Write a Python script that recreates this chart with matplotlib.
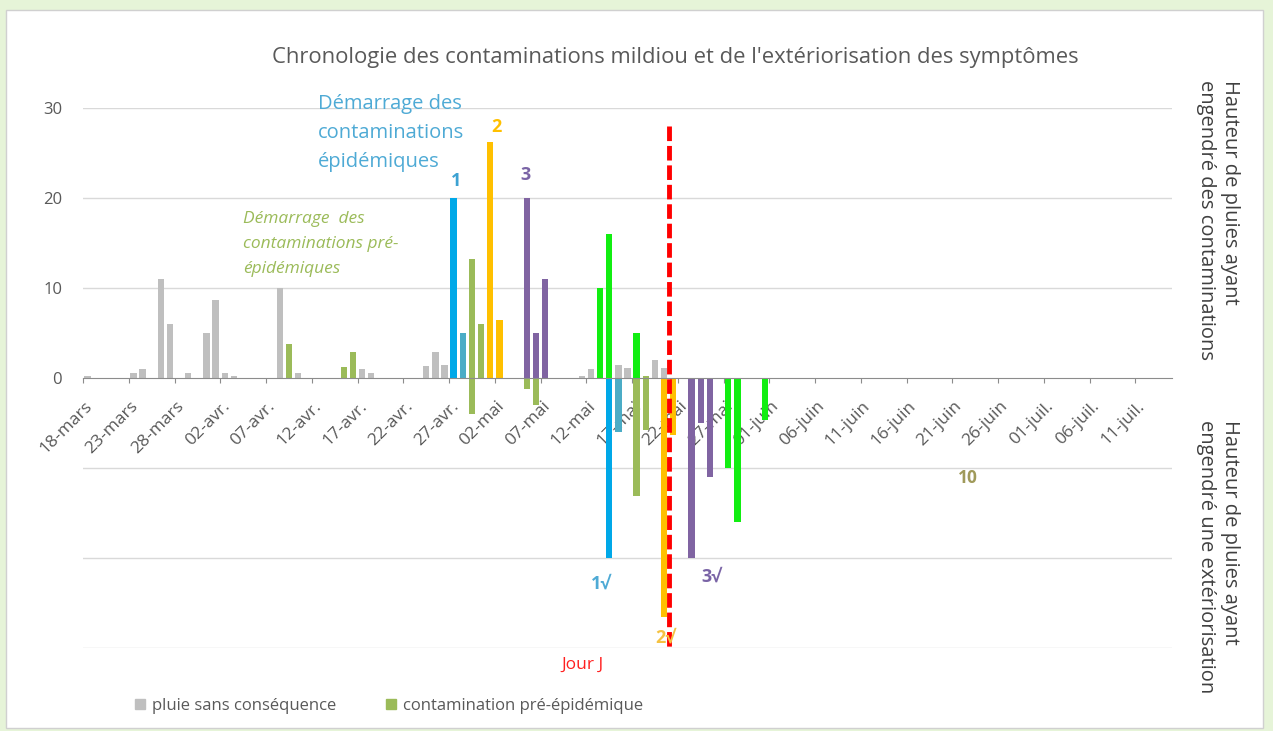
import matplotlib
matplotlib.use("Agg")
import matplotlib.pyplot as plt
import matplotlib.transforms as mtransforms
import numpy as np
from matplotlib.patches import Patch, Rectangle

# days counted from 18-mars (0 = 18-mars)
tick_days = list(range(0, 116, 5))
tick_labels = ['18-mars', '23-mars', '28-mars', '02-avr.', '07-avr.', '12-avr.',
               '17-avr.', '22-avr.', '27-avr.', '02-mai', '07-mai', '12-mai',
               '17-mai', '22-mai', '27-mai', '01-juin', '06-juin', '11-juin',
               '16-juin', '21-juin', '26-juin', '01-juil.', '06-juil.', '11-juil.']

# pluie sans conséquence
gray_days = [0, 5, 6, 8, 9, 11, 13, 14, 15, 16, 21, 23, 30, 31, 37, 38, 39,
             54, 55, 58, 59, 62, 63]
gray_vals = [0.2, 0.6, 1.0, 11, 6, 0.6, 5, 8.7, 0.6, 0.2, 10, 0.6, 1.0, 0.6,
             1.3, 2.9, 1.5, 0.2, 1.0, 1.5, 1.1, 2.0, 1.1]

# contamination pré-épidémique (positive = contamination, negative = sortie)
olive_days = [22, 28, 29, 42, 43, 61, 42, 48, 49, 60, 61]
olive_vals = [3.8, 1.2, 2.9, 13.2, 6.0, 0.2, -4.0, -1.2, -3.0, -13.1, -5.8]

# contamination 1
blue_days = [40, 57]
blue_vals = [20, -20]
teal_days = [41, 58]
teal_vals = [5, -6]

# contamination 2
orange_days = [44, 45, 63, 64]
orange_vals = [26.2, 6.5, -26.5, -6.3]

# contamination 3
purple_days = [48, 49, 50, 66, 67, 68]
purple_vals = [20, 5, 11, -20, -5, -11]

# later contaminations
lime_days = [56, 57, 60, 70, 71, 74]
lime_vals = [10, 16, 5, -10, -16, -4.7]

jour_j = 64.0

txt = '#595959'
c_gray = '#bfbfbf'
c_olive = '#9bbb59'
c_blue = '#00a8e8'
c_teal = '#4bacc6'
c_orange = '#ffc000'
c_purple = '#8064a2'
c_lime = '#11ee11'

plt.rcParams['font.family'] = ['Open Sans', 'DejaVu Sans']

fig = plt.figure(figsize=(12.73, 7.31), dpi=100)
fig.patch.set_facecolor('#e6f4d8')
fig.patches.append(Rectangle((6 / 1273, 1 - 728 / 731), 1257 / 1273, 718 / 731,
                             transform=fig.transFigure, facecolor='white',
                             edgecolor='#d0d0d0', lw=1, zorder=-10))

ax = fig.add_axes([83 / 1273, 1 - 648 / 731, 1089 / 1273, 540 / 731])
ax.set_facecolor('none')

w = 0.7
series = [(gray_days, gray_vals, c_gray), (olive_days, olive_vals, c_olive),
          (blue_days, blue_vals, c_blue), (teal_days, teal_vals, c_teal),
          (orange_days, orange_vals, c_orange), (purple_days, purple_vals, c_purple),
          (lime_days, lime_vals, c_lime)]
for d, v, c in series:
    ax.bar(np.array(d) + 0.5, v, width=w, color=c, zorder=3)

ax.set_xlim(0, 119)
ax.set_ylim(-30, 30)

# grid
for y in [-30, -20, -10, 10, 20, 30]:
    ax.axhline(y, color='#d9d9d9', lw=1, zorder=1)

ax.set_yticks([0, 10, 20, 30])
ax.tick_params(axis='y', length=0, pad=15, labelsize=12, labelcolor=txt)

for s in ['top', 'right', 'left']:
    ax.spines[s].set_visible(False)
ax.spines['bottom'].set_position(('data', 0))
ax.spines['bottom'].set_color('#8c8c8c')
ax.spines['bottom'].set_zorder(4)

ax.set_xticks(tick_days)
ax.set_xticklabels(tick_labels, rotation=45, ha='right', va='center',
                   rotation_mode='anchor')
ax.tick_params(axis='x', direction='out', length=3.5, color='#8c8c8c',
               labelsize=12.5, labelcolor=txt, pad=15)
shift = mtransforms.ScaledTranslation(0.07, 0, fig.dpi_scale_trans)
for lab in ax.get_xticklabels():
    lab.set_transform(lab.get_transform() + shift)

# jour J
ax.plot([jour_j, jour_j], [28, -30.3], color='#ff0000', lw=3.5,
        linestyle=(0, (3, 1)), zorder=5, clip_on=False)

# annotations
ax.text(25.7, 31.5, 'Démarrage des\ncontaminations\népidémiques', color='#4eaad5',
        fontsize=14.5, va='top', ha='left', linespacing=1.6, clip_on=False)
ax.text(17.5, 18.6, 'Démarrage  des\ncontaminations pré-\népidémiques', color=c_olive,
        fontsize=12.5, style='italic', va='top', ha='left', linespacing=1.75)
ax.text(40.75, 21.9, '1', color='#3da2d2', fontsize=13, fontweight='bold',
        ha='center', va='center')
ax.text(45.2, 27.9, '2', color=c_orange, fontsize=13, fontweight='bold',
        ha='center', va='center')
ax.text(48.4, 22.6, '3', color='#7a64a6', fontsize=13, fontweight='bold',
        ha='center', va='center')
ax.text(56.6, -22.8, '1√', color='#4eaad5', fontsize=13, fontweight='bold',
        ha='center', va='center')
ax.text(63.6, -28.9, '2√', color='#f5c242', fontsize=13, fontweight='bold',
        ha='center', va='center', zorder=6)
ax.text(68.7, -22.1, '3√', color='#7a64a6', fontsize=13, fontweight='bold',
        ha='center', va='center')
ax.text(54.6, -31.9, 'Jour J', color='#ff2020', fontsize=12.5,
        ha='center', va='center', clip_on=False)
ax.text(96.7, -11.1, '10', color='#a09a5a', fontsize=12.5, fontweight='bold',
        ha='center', va='center')

fig.text(675 / 1273, 1 - 58 / 731,
         "Chronologie des contaminations mildiou et de l'extériorisation des symptômes",
         ha='center', va='center', fontsize=15.8, color=txt)

# right-hand axis titles
fig.text(1218 / 1273, 1 - 80 / 731, 'Hauteur de pluies ayant\nengendré des contaminations',
         rotation=-90, ha='center', va='top', multialignment='left',
         fontsize=14.5, color='#404040', linespacing=1.25)
fig.text(1218 / 1273, 1 - 420 / 731, 'Hauteur de pluies ayant\nengendré une extériorisation',
         rotation=-90, ha='center', va='top', multialignment='left',
         fontsize=14.5, color='#404040', linespacing=1.25)

handles = [Patch(color=c_gray), Patch(color=c_olive)]
fig.legend(handles, ['pluie sans conséquence', 'contamination pré-épidémique'],
           loc='center left', bbox_to_anchor=(120 / 1273, 1 - 706 / 731), ncol=2,
           frameon=False, fontsize=12, labelcolor=txt, handlelength=0.6,
           handleheight=0.6, handletextpad=0.4, columnspacing=3.0)

fig.savefig('out.png', dpi=100, facecolor=fig.get_facecolor())
